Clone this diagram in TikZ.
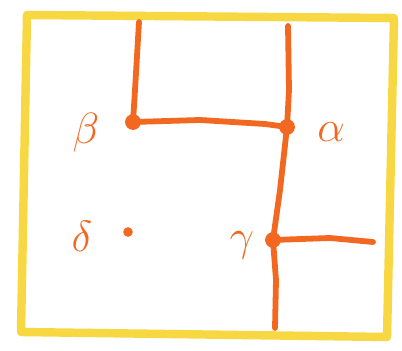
\documentclass[tikz,border=0pt]{standalone}
\usepackage{amsmath}
\usepackage{xcolor}
\definecolor{pen}{RGB}{242,104,32}
\definecolor{marker}{RGB}{247,216,66}

\begin{document}
\begin{tikzpicture}[x=0.02cm,y=-0.02cm,
        pen/.style={draw=pen,line width=3.3pt,line cap=round,line join=round},
        dot/.style={circle,fill=pen,inner sep=0pt,minimum size=9pt},
        smalldot/.style={circle,fill=pen,inner sep=0pt,minimum size=5.5pt},
        lbl/.style={text=pen,font=\fontsize{28}{32}\selectfont}]
        \useasboundingbox (0,0) rectangle (402,351);
        \draw[marker,line width=4.8pt,line join=round] (27,15) -- (394,18) -- (387,337) -- (21,332) -- cycle;

        \node[dot] (b) at (133,122) {};
        \node[dot] (a) at (287,127) {};
        \node[dot] (g) at (273,240) {};
        \node[smalldot] (d) at (128,232) {};
        \coordinate (tb) at (139,22);
        \coordinate (ta) at (288,26);
        \coordinate (bg) at (275,328);
        \coordinate (rg) at (373,242);

        \draw[pen] (tb) -- (135,90) -- (b.center) -- (200,120) -- (265,124) -- (a.center);
        \draw[pen] (ta) -- (289,90) -- (a.center) -- (280,190) -- (g.center) -- (276,280) -- (bg);
        \draw[pen] (g.center) -- (330,238) -- (rg);

        \node[lbl] (lb) at (86,133) {\(\beta\)};
        \node[lbl] (la) at (331,132) {\(\alpha\)};
        \node[lbl] (ld) at (82,236) {\(\delta\)};
        \node[lbl] (lg) at (242,245) {\(\gamma\)};
    \end{tikzpicture}
\end{document}
